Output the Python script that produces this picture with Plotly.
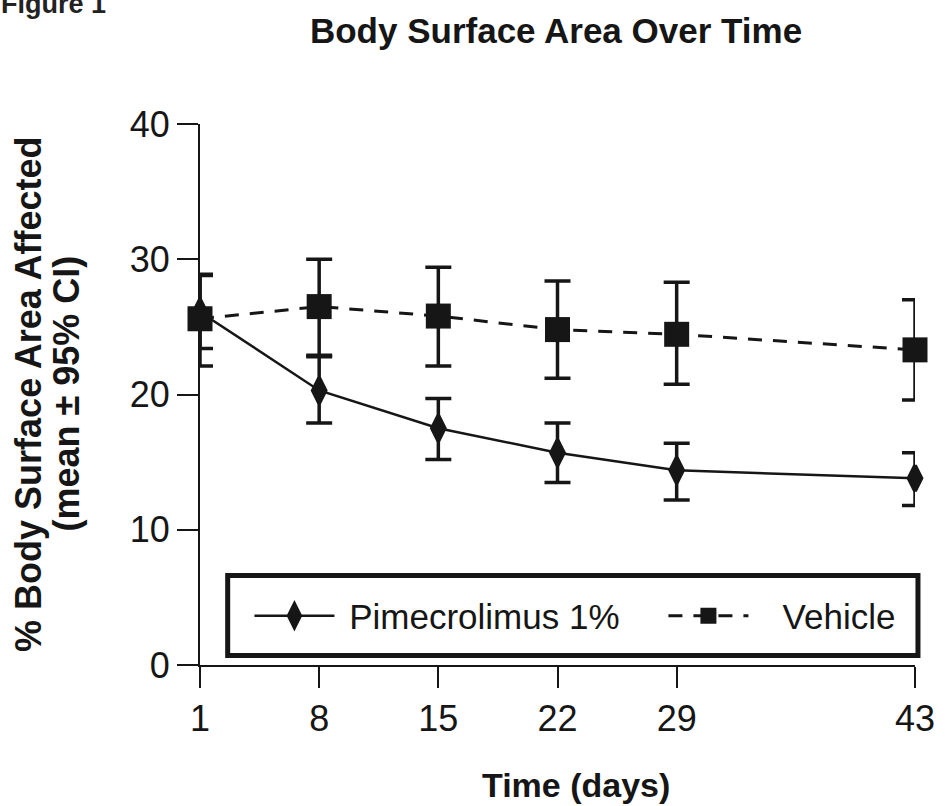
import plotly.graph_objects as go

days = [1, 8, 15, 22, 29, 43]
tick_labels = ["1", "8", "15", "22", "29", "43"]

pime_mean = [26.1, 20.3, 17.5, 15.7, 14.4, 13.8]
pime_upper = [28.8, 22.8, 19.7, 17.9, 16.4, 15.7]
pime_lower = [23.4, 17.9, 15.2, 13.5, 12.2, 11.8]

veh_mean = [25.6, 26.5, 25.8, 24.8, 24.45, 23.3]
veh_upper = [28.9, 30.0, 29.4, 28.4, 28.3, 27.0]
veh_lower = [22.1, 22.9, 22.1, 21.2, 20.75, 19.6]

INK = "#161616"
FONT = "Arial, Liberation Sans, sans-serif"
NB = "\u00a0"

def err(mean, up, lo):
    return dict(type="data", symmetric=False,
                array=[u - m for u, m in zip(up, mean)],
                arrayminus=[m - l for m, l in zip(mean, lo)],
                color=INK, thickness=3.5, width=13)

fig = go.Figure()
fig.add_trace(go.Scatter(
    x=days, y=pime_mean, name=NB + "Pimecrolimus 1%" + NB * 4, mode="lines+markers",
    line=dict(color=INK, width=2.5),
    marker=dict(symbol="diamond-tall", size=18, color=INK, line=dict(color=INK, width=4)),
    error_y=err(pime_mean, pime_upper, pime_lower), cliponaxis=False))
fig.add_trace(go.Scatter(
    x=days, y=veh_mean, name=NB * 3 + "Vehicle", mode="lines+markers",
    line=dict(color=INK, width=3, dash="14px,11px"),
    marker=dict(symbol="square", size=25, color=INK),
    error_y=err(veh_mean, veh_upper, veh_lower), cliponaxis=False))

L, R, T, B = 200, 24, 124, 141
W, H = 947, 806
pw, ph = W - L - R, H - T - B

def px(xp):
    return (xp - L) / pw

def py(yp):
    return (H - B - yp) / ph

fig.update_layout(
    width=W, height=H, autosize=False,
    margin=dict(l=L, r=R, t=T, b=B),
    plot_bgcolor="white", paper_bgcolor="white",
    font=dict(family=FONT, color=INK),
    title=dict(text="<b>Body Surface Area Over Time</b>", font=dict(size=35, family=FONT, color=INK),
               x=px(560), xref="paper", xanchor="center", y=1 - 31 / H, yref="container", yanchor="middle"),
    xaxis=dict(range=[1, 43], tickvals=days, ticktext=tick_labels, showgrid=False, zeroline=False,
               showline=True, linecolor=INK, linewidth=2, ticks="outside", ticklen=21, tickwidth=2,
               tickcolor=INK, tickfont=dict(size=36, family=FONT, color=INK)),
    yaxis=dict(range=[0, 40], tickvals=[0, 10, 20, 30, 40], showgrid=False, zeroline=False,
               showline=True, linecolor=INK, linewidth=2, ticks="outside", ticklen=21, tickwidth=2,
               tickcolor=INK, tickfont=dict(size=36, family=FONT, color=INK)),
    showlegend=True,
    legend=dict(orientation="h", x=px(250), xanchor="left", y=py(616), yanchor="middle",
                font=dict(size=35, family=FONT, color=INK), bgcolor="rgba(0,0,0,0)",
                borderwidth=0, itemwidth=80, traceorder="normal"),
    shapes=[dict(type="rect", xref="paper", yref="paper", x0=px(228), x1=px(926), y0=py(655.5), y1=py(575.5),
                 line=dict(color=INK, width=5), fillcolor="rgba(0,0,0,0)")],
    annotations=[
        dict(text="<b>Time (days)</b>", x=px(580), y=py(785), xref="paper", yref="paper",
             showarrow=False, xanchor="center", yanchor="middle", font=dict(size=34, family=FONT, color=INK)),
        dict(text="<b>% Body Surface Area Affected</b>", x=px(26), y=py(394), xref="paper", yref="paper",
             showarrow=False, textangle=-90, xanchor="center", yanchor="middle",
             font=dict(size=36, family=FONT, color=INK)),
        dict(text="<b>(mean ± 95% CI)</b>", x=px(64), y=py(394), xref="paper", yref="paper",
             showarrow=False, textangle=-90, xanchor="center", yanchor="middle",
             font=dict(size=36, family=FONT, color=INK)),
        dict(text="<b>Figure 1</b>", x=px(-3), y=py(4), xref="paper", yref="paper",
             showarrow=False, xanchor="left", yanchor="middle", font=dict(size=27, family=FONT, color="#222")),
    ],
)

fig.write_html("out.html", config={"displayModeBar": False},
               post_script="document.body.style.margin='0';document.body.style.overflow='hidden';")
